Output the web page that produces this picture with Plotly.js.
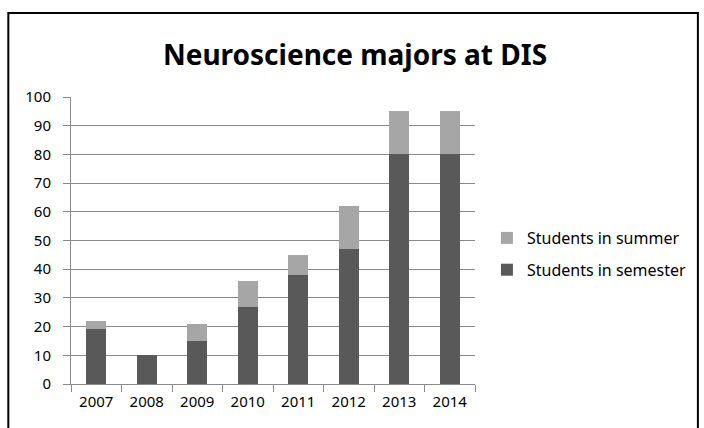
<!DOCTYPE html>
<html>
<head>
<meta charset="utf-8">
<script src="https://cdn.plot.ly/plotly-3.0.1.min.js"></script>
<style>
html,body{margin:0;padding:0;background:#fff;}
#chart{width:704px;height:428px;}
</style>
</head>
<body>
<div id="chart"></div>
<script>
var years = ['2007','2008','2009','2010','2011','2012','2013','2014'];
var semester = [19, 10, 15, 27, 38, 47, 80, 80];
var summer = [3, 0, 6, 9, 7, 15, 15, 15];
var yTicks = [0,10,20,30,40,50,60,70,80,90,100];

var fontFam = '"Noto Sans", "Open Sans", sans-serif';
var gridCol = '#8a8a8a';

var traces = [
  {type:'bar', x:years, y:semester, name:'Students in semester',
   marker:{color:'#595959'}, legendgroup:'a', legendrank:2, hoverinfo:'x+y'},
  {type:'bar', x:years, y:summer, name:'Students in summer',
   marker:{color:'#a6a6a6'}, legendgroup:'b', legendrank:1, hoverinfo:'x+y'}
];

var L = 71, R = 477, T = 97, B = 384, W = 704, H = 428;
var pw = R - L, ph = B - T;

var layout = {
  width: W, height: H,
  margin: {l: L, r: W - R, t: T, b: H - B, pad: 0},
  paper_bgcolor: '#ffffff', plot_bgcolor: '#ffffff',
  barmode: 'stack', bargap: 0.6,
  font: {family: fontFam, size: 15, color: '#000'},
  title: {text: '<b>Neuroscience majors at DIS</b>', font: {family: fontFam, size: 28, color: '#000'},
          x: 355/W, xref: 'container', xanchor:'center', y: 1 - 55/H, yref:'container', yanchor: 'middle'},
  xaxis: {type:'category', showgrid:false, showline:true, linecolor:gridCol, linewidth:1,
          ticks:'outside', tickson:'boundaries', ticklen:7, tickcolor:gridCol, ticklabelstandoff:4,
          tickfont:{size:15, color:'#000'}, fixedrange:true},
  yaxis: {range:[0,100], tickvals:yTicks, showgrid:true, gridcolor:gridCol, gridwidth:1,
          showline:true, linecolor:gridCol, linewidth:1, ticks:'outside', ticklen:7, tickcolor:gridCol,
          ticklabelstandoff:9,
          zeroline:false, tickfont:{size:15, color:'#000'}, fixedrange:true},
  showlegend: true,
  legend: {x: (489 - L)/pw, xanchor:'left', y: (B - 221)/ph, yanchor:'top',
           traceorder:'grouped', tracegroupgap: 8,
           font:{size:16, color:'#000'}, bgcolor:'rgba(0,0,0,0)'},
  shapes: [{type:'rect', xref:'paper', yref:'paper', layer:'above',
            x0:(8 - L)/pw, x1:(701 - L)/pw, y0:(B - 460)/ph, y1:(B - 13)/ph,
            line:{color:'#000', width:2}, fillcolor:'rgba(0,0,0,0)'}]
};

Plotly.newPlot('chart', traces, layout, {displayModeBar:false, staticPlot:true});
</script>
</body>
</html>
